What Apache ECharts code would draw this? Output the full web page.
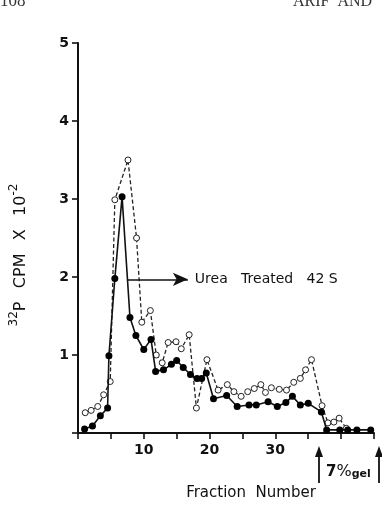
<!DOCTYPE html>
<html>
<head>
<meta charset="utf-8">
<script src="https://cdn.jsdelivr.net/npm/echarts@6/dist/echarts.min.js"></script>
<style>
html, body { margin: 0; padding: 0; background: #fff; }
#main { width: 382px; height: 510px; }
</style>
</head>
<body>
<div id="main"></div>
<script>
// open circles, dashed line
const openX = [1.1, 2.0, 3.0, 3.9, 4.9, 5.6, 7.6, 8.9, 9.7, 11.0, 11.9, 12.8, 13.7, 14.9, 15.7, 16.9, 18.0, 19.6, 21.3, 22.7,
    23.7, 24.8, 25.8, 26.8, 27.8, 28.5, 29.4, 30.6, 31.7, 32.8, 33.8, 34.6, 35.5, 37.1, 38.0, 38.9, 39.7, 40.8];
const openY = [0.26, 0.29, 0.34, 0.49, 0.66, 2.99, 3.50, 2.50, 1.42, 1.57, 1.00, 0.90, 1.16, 1.17, 1.08, 1.26, 0.32, 0.94, 0.55, 0.62,
    0.53, 0.47, 0.53, 0.57, 0.62, 0.52, 0.58, 0.56, 0.55, 0.65, 0.70, 0.81, 0.94, 0.35, 0.13, 0.14, 0.19, 0.06];

// filled circles, solid line
const filledX = [1.0, 2.2, 3.4, 4.5, 4.7, 5.6, 6.7, 7.9, 8.8, 10.0, 11.1, 11.8, 13.0, 14.2, 15.0, 16.0, 17.1, 18.1, 18.8, 19.5,
    20.6, 22.6, 24.2, 26.0, 27.1, 28.9, 30.3, 31.6, 32.6, 33.8, 35.0, 37.0, 37.8, 39.8, 41.0, 42.4, 44.5];
const filledY = [0.05, 0.09, 0.22, 0.32, 0.99, 1.98, 3.03, 1.48, 1.25, 1.07, 1.20, 0.79, 0.81, 0.88, 0.93, 0.84, 0.75, 0.70, 0.70, 0.77,
    0.44, 0.48, 0.34, 0.36, 0.36, 0.40, 0.34, 0.39, 0.47, 0.36, 0.38, 0.27, 0.04, 0.04, 0.04, 0.04, 0.04];

const xLabels = [10, 20, 30];
const yLabels = [1, 2, 3, 4, 5];

// arrow to the peak
const arrowFrom = [7.6, 1.97];
const arrowTo = [16.7, 1.97];

const chart = echarts.init(document.getElementById('main'));
const font = 'DejaVu Sans';

chart.setOption({
    animation: false,
    grid: { left: 78, right: 8, top: 43, bottom: 77 },
    xAxis: {
        type: 'value',
        min: 0,
        max: 45,
        interval: 5,
        axisLine: { lineStyle: { color: '#111', width: 2 } },
        axisTick: { length: 6, lineStyle: { color: '#111', width: 1.6 } },
        axisLabel: {
            margin: 10,
            color: '#111',
            fontFamily: font,
            fontWeight: 'bold',
            fontSize: 14,
            formatter: v => xLabels.indexOf(v) >= 0 ? String(v) : ''
        },
        splitLine: { show: false },
        name: 'Fraction  Number',
        nameLocation: 'middle',
        nameGap: 53,
        nameTextStyle: { color: '#111', fontFamily: font, fontSize: 15, padding: [0, 0, 0, 50] }
    },
    yAxis: {
        type: 'value',
        min: 0,
        max: 5,
        interval: 1,
        axisLine: { show: true, lineStyle: { color: '#111', width: 2 } },
        axisTick: { show: true, length: 6, lineStyle: { color: '#111', width: 1.6 } },
        axisLabel: {
            margin: 9,
            color: '#111',
            fontFamily: font,
            fontWeight: 'bold',
            fontSize: 14,
            formatter: v => yLabels.indexOf(v) >= 0 ? String(v) : ''
        },
        splitLine: { show: false }
    },
    series: [
        {
            type: 'line',
            data: openX.map((x, i) => [x, openY[i]]),
            symbol: 'circle',
            symbolSize: 6,
            showAllSymbol: true,
            itemStyle: { color: '#fff', borderColor: '#222', borderWidth: 1 },
            lineStyle: { color: '#222', width: 1.3, type: [4, 2.5] },
            z: 2
        },
        {
            type: 'line',
            data: filledX.map((x, i) => [x, filledY[i]]),
            symbol: 'circle',
            symbolSize: 7,
            showAllSymbol: true,
            itemStyle: { color: '#000' },
            lineStyle: { color: '#111', width: 1.6 },
            z: 3,
            markLine: {
                silent: true,
                symbol: ['none', 'arrow'],
                symbolSize: [10, 15],
                lineStyle: { color: '#111', width: 1.6, type: 'solid' },
                label: {
                    show: true,
                    position: 'end',
                    distance: 7,
                    color: '#111',
                    fontFamily: font,
                    fontSize: 14,
                    formatter: 'Urea   Treated   42 S'
                },
                data: [[{ coord: arrowFrom }, { coord: arrowTo }]]
            }
        }
    ],
    graphic: [
        {
            type: 'text',
            x: 18,
            y: 255,
            rotation: Math.PI / 2,
            style: {
                text: '{sup|32}{b|P}    {b|CPM}    {b|X}    {b|10}{sup|-2}',
                align: 'center',
                verticalAlign: 'middle',
                rich: {
                    b: { fontFamily: font, fontSize: 16, fill: '#111', lineHeight: 21, verticalAlign: 'bottom' },
                    sup: { fontFamily: font, fontSize: 12, fill: '#111', lineHeight: 21, verticalAlign: 'top' }
                }
            }
        },
        {
            type: 'text',
            x: 0,
            y: 10,
            style: { text: '108', fontFamily: 'Liberation Serif', fontSize: 17, fill: '#333', verticalAlign: 'bottom' }
        },
        {
            type: 'text',
            x: 293,
            y: 10,
            style: { text: 'ARIF  AND', fontFamily: 'Liberation Serif', fontSize: 16, fill: '#333', verticalAlign: 'bottom' }
        },
        // gel arrows under the axis
        { type: 'line', shape: { x1: 319, y1: 483, x2: 319, y2: 454 }, style: { stroke: '#111', lineWidth: 1.8 } },
        { type: 'polygon', shape: { points: [[319, 446], [315, 457], [323, 457]] }, style: { fill: '#111' } },
        { type: 'line', shape: { x1: 379, y1: 483, x2: 379, y2: 454 }, style: { stroke: '#111', lineWidth: 1.8 } },
        { type: 'polygon', shape: { points: [[379, 446], [375, 457], [383, 457]] }, style: { fill: '#111' } },
        {
            type: 'text',
            x: 326,
            y: 471,
            style: {
                text: '{n|7}{p|%}{g|gel}',
                verticalAlign: 'middle',
                rich: {
                    n: { fontFamily: font, fontWeight: 'bold', fontSize: 15, fill: '#111', verticalAlign: 'bottom', lineHeight: 18 },
                    p: { fontFamily: font, fontSize: 16, fill: '#111', verticalAlign: 'bottom', lineHeight: 18 },
                    g: { fontFamily: font, fontWeight: 'bold', fontSize: 11, fill: '#111', verticalAlign: 'bottom', lineHeight: 18 }
                }
            }
        }
    ]
});
</script>
</body>
</html>
